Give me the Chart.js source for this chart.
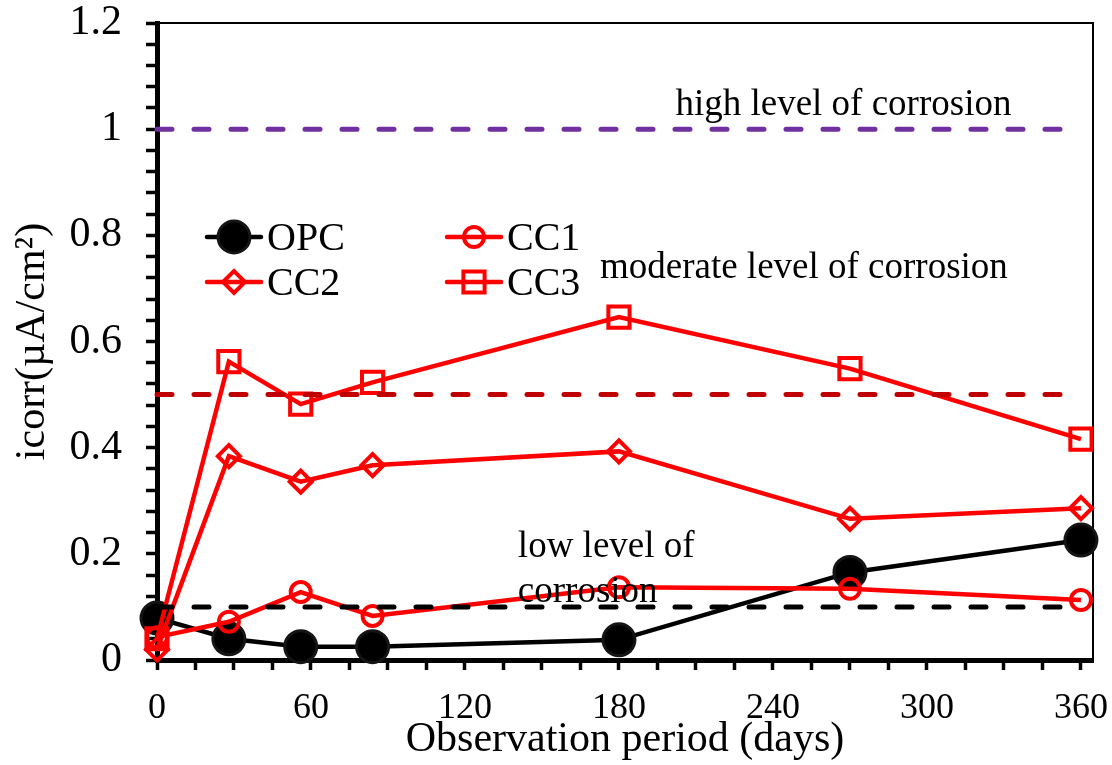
<!DOCTYPE html>
<html>
<head>
<meta charset="utf-8">
<script src="https://cdn.jsdelivr.net/npm/chart.js@4/dist/chart.umd.min.js"></script>
<style>
  body { margin: 0; background: #fff; }
  canvas { display: block; }
</style>
</head>
<body>
<canvas id="icorr_chart" width="1112" height="765"></canvas>
<script>
// observation days and corrosion current density (µA/cm²)
const days = [0, 28, 56, 84, 180, 270, 360];
const opc = [0.079, 0.040, 0.025, 0.025, 0.038, 0.165, 0.226];
const cc1 = [0.043, 0.072, 0.128, 0.083, 0.137, 0.134, 0.113];
const cc2 = [0.020, 0.384, 0.336, 0.367, 0.393, 0.266, 0.286];
const cc3 = [0.040, 0.562, 0.482, 0.523, 0.646, 0.549, 0.416];

// x axis tick marks every 15 days, labelled every 60
const xTicks = [0, 15, 30, 45, 60, 75, 90, 105, 120, 135, 150, 165, 180,
  195, 210, 225, 240, 255, 270, 285, 300, 315, 330, 345, 360];
const xLabels = [0, 60, 120, 180, 240, 300, 360];

// corrosion level limits
const levelValues = [1.0, 0.5, 0.1];
const levelColors = ["#7030A0", "#C00000", "#000000"];
const levelRange = [0, 360];

// notes written on the plot (data units)
const notes = [
  { text: "high level of corrosion", x: 202, y: 1.026 },
  { text: "moderate level of corrosion", x: 172.6, y: 0.72 },
  { text: "low level of", x: 140.6, y: 0.194 },
  { text: "corrosion", x: 140.6, y: 0.109 },
];

const FONT = "'Liberation Serif', 'Times New Roman', serif";

const series = [
  { label: "OPC", values: opc, color: "#000000", style: "circle", radius: 16, fill: "#000000", edge: "#151515", bw: 3, order: 10 },
  { label: "CC1", values: cc1, color: "#FF0000", style: "circle", radius: 10, fill: "rgba(0,0,0,0)", edge: "#FF0000", bw: 4, order: 9 },
  { label: "CC2", values: cc2, color: "#FF0000", style: "rectRot", radius: 11, fill: "rgba(0,0,0,0)", edge: "#FF0000", bw: 4, order: 8 },
  { label: "CC3", values: cc3, color: "#FF0000", style: "rect", radius: 15, fill: "rgba(0,0,0,0)", edge: "#FF0000", bw: 4, order: 7 },
];

const datasets = series.map((s) => ({
  label: s.label,
  data: days.map((d, i) => ({ x: d, y: s.values[i] })),
  borderColor: s.color,
  borderWidth: 4.5,
  pointStyle: s.style,
  pointRadius: s.radius,
  pointBackgroundColor: s.fill,
  pointBorderColor: s.edge,
  pointBorderWidth: s.bw,
  tension: 0,
  clip: false,
  order: s.order,
}));

levelValues.forEach((v, i) => {
  datasets.push({
    label: "level" + i,
    data: levelRange.map((d) => ({ x: d, y: v })),
    borderColor: levelColors[i],
    borderWidth: 5,
    borderDash: [15, 22],
    borderCapStyle: "round",
    pointRadius: 0,
    clip: false,
    order: 1 + i,
  });
});

function drawMarker(ctx, s, x, y) {
  ctx.save();
  ctx.lineWidth = s.bw;
  ctx.strokeStyle = s.edge;
  ctx.fillStyle = s.fill;
  ctx.beginPath();
  if (s.style === "circle") {
    ctx.arc(x, y, s.radius, 0, Math.PI * 2);
  } else if (s.style === "rectRot") {
    ctx.moveTo(x - s.radius, y);
    ctx.lineTo(x, y - s.radius);
    ctx.lineTo(x + s.radius, y);
    ctx.lineTo(x, y + s.radius);
    ctx.closePath();
  } else {
    const h = s.radius * Math.SQRT1_2;
    ctx.rect(x - h, y - h, 2 * h, 2 * h);
  }
  ctx.fill();
  ctx.stroke();
  ctx.restore();
}

const frame = {
  id: "frame",
  beforeDatasetsDraw(chart) {
    const { ctx, chartArea: a } = chart;
    ctx.save();
    ctx.strokeStyle = "#000";
    ctx.lineWidth = 2;
    ctx.beginPath();
    ctx.moveTo(a.left, a.top);
    ctx.lineTo(a.right, a.top);
    ctx.lineTo(a.right, a.bottom);
    ctx.stroke();
    ctx.restore();
  },
};

const notesPlugin = {
  id: "notes",
  afterDatasetsDraw(chart) {
    const { ctx, scales } = chart;
    ctx.save();
    ctx.font = "37px " + FONT;
    ctx.fillStyle = "#000";
    ctx.textAlign = "left";
    ctx.textBaseline = "alphabetic";
    notes.forEach((n) => {
      ctx.fillText(n.text, scales.x.getPixelForValue(n.x), scales.y.getPixelForValue(n.y));
    });
    ctx.restore();
  },
};

const legendPlugin = {
  id: "lineLegend",
  afterDraw(chart) {
    const { ctx, chartArea: a } = chart;
    const cols = [a.left + 50, a.left + 290];
    const rows = [a.top + 214, a.top + 259];
    ctx.save();
    ctx.font = "40px " + FONT;
    ctx.textBaseline = "middle";
    ctx.textAlign = "left";
    series.forEach((s, i) => {
      const x = cols[i % 2];
      const y = rows[Math.floor(i / 2)];
      ctx.strokeStyle = s.color;
      ctx.lineWidth = 4.5;
      ctx.lineCap = "round";
      ctx.beginPath();
      ctx.moveTo(x, y);
      ctx.lineTo(x + 54, y);
      ctx.stroke();
      drawMarker(ctx, s, x + 27, y);
      ctx.fillStyle = "#000";
      ctx.fillText(s.label, x + 60, y + 2);
    });
    ctx.restore();
  },
};

const ctx = document.getElementById("icorr_chart");

const chart = new Chart(ctx, {
  type: "line",
  data: { datasets: datasets },
  options: {
    responsive: false,
    animation: false,
    layout: { padding: { left: 0, top: 23, right: 19, bottom: 0 } },
    plugins: {
      legend: { display: false },
      tooltip: { enabled: false },
    },
    scales: {
      x: {
        type: "linear",
        min: 0,
        max: 364.7,
        bounds: "data",
        afterBuildTicks: (s) => {
          s.ticks = xTicks.map((v) => ({ value: v }));
        },
        afterFit: (s) => {
          s.height = 105;
          s.paddingLeft = 0;
          s.paddingRight = 0;
        },
        ticks: {
          autoSkip: false,
          maxRotation: 0,
          padding: 17,
          color: "#000",
          font: { family: FONT, size: 36 },
          callback: (v) => (xLabels.includes(v) ? String(v) : ""),
        },
        grid: { drawOnChartArea: false, drawTicks: true, tickLength: 10, tickWidth: 3.5, tickColor: "#000" },
        border: { display: true, color: "#000", width: 5 },
        title: {
          display: true,
          text: "Observation period (days)",
          color: "#000",
          font: { family: FONT, size: 42 },
          padding: { top: 0, bottom: 0 },
        },
      },
      y: {
        min: 0,
        max: 1.2,
        afterFit: (s) => {
          s.width = 157;
          s.paddingTop = 0;
          s.paddingBottom = 0;
        },
        ticks: {
          stepSize: 0.04,
          autoSkip: false,
          padding: 24,
          color: "#000",
          font: { family: FONT, size: 42 },
          callback: (v) => {
            const k = v * 5;
            return Math.abs(k - Math.round(k)) < 1e-6 ? String(Math.round(v * 10) / 10) : "";
          },
        },
        grid: { drawOnChartArea: false, drawTicks: true, tickLength: 11, tickWidth: 3.5, tickColor: "#000" },
        border: { display: true, color: "#000", width: 5 },
        title: {
          display: true,
          text: "icorr(µA/cm²)",
          color: "#000",
          font: { family: FONT, size: 42 },
          padding: { top: 8, bottom: 0 },
        },
      },
    },
  },
  plugins: [frame, notesPlugin, legendPlugin],
});
</script>
</body>
</html>
